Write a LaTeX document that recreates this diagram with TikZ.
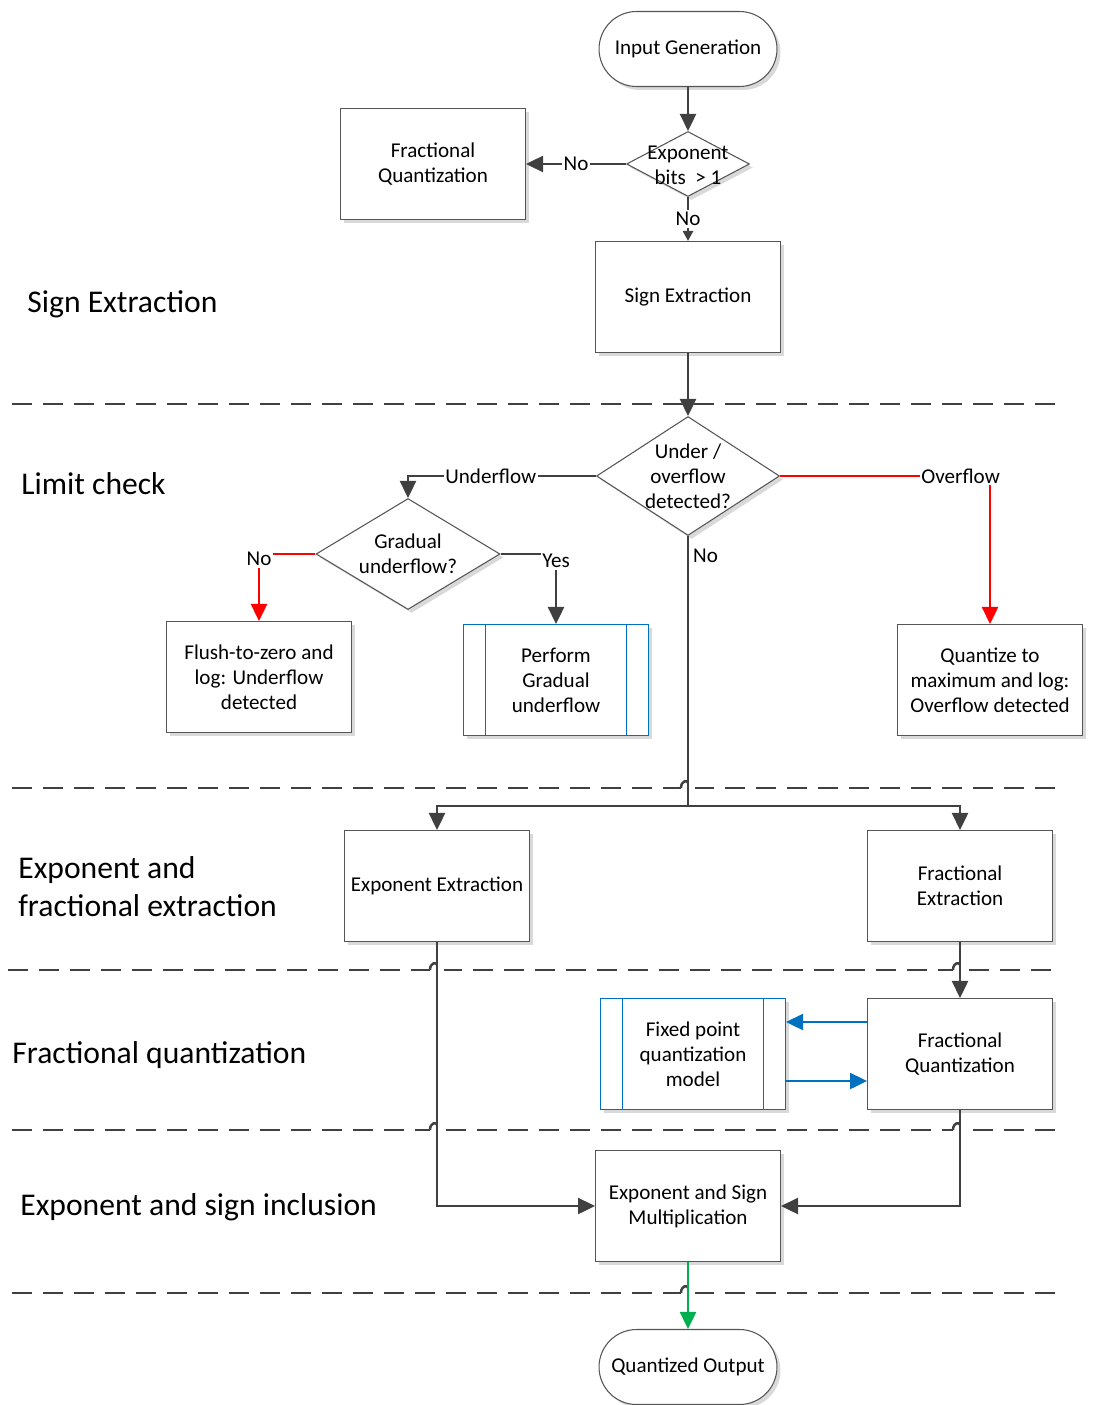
\documentclass[tikz,border=0pt]{standalone}
\usepackage{fontspec}
\setmainfont{Carlito}
\usetikzlibrary{arrows.meta,shapes.geometric,shapes.misc,shadows,calc}

\definecolor{lineGray}{HTML}{404040}
\definecolor{boxGray}{HTML}{555555}
\definecolor{vsBlue}{HTML}{0070C0}
\definecolor{vsRed}{HTML}{FF0000}
\definecolor{vsGreen}{HTML}{00B050}

\begin{document}
\begin{tikzpicture}[x = 0.02cm, y = -0.02cm,
    shade box/.style = {drop shadow = {shadow xshift = 0.07cm, shadow yshift = -0.07cm, fill = black!15, opacity = 1}},
    box/.style = {rectangle, draw = boxGray, line width = 0.6pt, fill = white, shade box,
        minimum width = 3.7cm, minimum height = 2.22cm, inner sep = 2pt, align = center,
        font = \fontsize{12}{14.2}\selectfont},
    term/.style = {box, rounded rectangle, minimum height = 1.5cm},
    decision/.style = {diamond, draw = boxGray, line width = 0.6pt, fill = white, shade box, inner sep = 0pt},
    predef/.style = {box, draw = vsBlue,
        path picture = {\draw [vsBlue, line width = 0.6pt]
            ([xshift = 0.44cm] path picture bounding box.north west) -- ([xshift = 0.44cm] path picture bounding box.south west)
            ([xshift = -0.44cm] path picture bounding box.north east) -- ([xshift = -0.44cm] path picture bounding box.south east);}},
    txt/.style = {inner sep = 0pt, align = center, text = black, font = \fontsize{12}{14.2}\selectfont},
    lbl/.style = {txt, fill = white, inner sep = 1pt},
    heading/.style = {anchor = west, inner sep = 0pt, align = left, font = \fontsize{18}{21.6}\selectfont},
    flow/.style = {line width = 1.4pt, draw = lineGray, -{Triangle[length = 0.34cm, width = 0.32cm]}},
    small flow/.style = {flow, -{Triangle[length = 0.2cm, width = 0.2cm]}},
    sepline/.style = {line width = 1.6pt, draw = lineGray, dash pattern = on 0.4cm off 0.22cm}]

    \useasboundingbox (0, 0) rectangle (1095, 1405);

    % lane separators
    \foreach \yy/\xa/\xb in {404/12/1062, 788/12/1062, 970/8/1053, 1130/12/1055, 1293/12/1062}
    \draw [sepline] (\xa, \yy) -- (\xb, \yy);

    \foreach \hx/\hy in {688/788, 437/970, 960/970, 437/1130, 960/1130, 688/1293} {
        \fill [white] (\hx - 7, \hy - 3) rectangle (\hx + 7, \hy + 3);
        \draw [line width = 1.4pt, lineGray] (\hx - 7, \hy) .. controls (\hx - 7, \hy - 8) and (\hx, \hy - 8) .. (\hx, \hy - 5);
    }

    % lane titles
    \node [heading] (hSign) at (27, 304) {Sign Extraction};
    \node [heading] (hLimit) at (21, 484) {Limit check};
    \node [heading] (hExpFrac) at (18, 887) {Exponent and\\fractional extraction};
    \node [heading] (hFracQ) at (12, 1055) {Fractional quantization};
    \node [heading] (hExpSign) at (20, 1207) {Exponent and sign inclusion};

    % blocks
    \node [term] (input) at (688, 49) {Input Generation};
    \node [decision, minimum width = 2.46cm, minimum height = 1.3cm] (expbits) at (688, 164) {};
    \node [txt] (expbitsT) at (688, 165) {Exponent\\bits~~> 1};
    \node [box] (fracq1) at (433, 164) {Fractional\\Quantization};
    \node [box] (signx) at (688, 297) {Sign Extraction};

    \node [decision, minimum width = 3.66cm, minimum height = 2.38cm] (uoflow) at (688, 476) {};
    \node [txt] (uoflowT) at (uoflow) {Under /\\overflow\\detected?};
    \node [decision, minimum width = 3.68cm, minimum height = 2.22cm] (gradual) at (408, 554) {};
    \node [txt] (gradualT) at (gradual) {Gradual\\underflow?};
    \node [box] (flush) at (259, 677) {Flush-to-zero and\\log: Underflow\\detected};
    \node [predef] (perform) at (556, 680) {Perform\\Gradual\\underflow};
    \node [box] (quantmax) at (990, 680) {Quantize to\\maximum and log:\\Overflow detected};

    \node [box] (expx) at (437, 886) {Exponent Extraction};
    \node [box] (fracx) at (960, 886) {Fractional\\Extraction};
    \node [predef] (fixedq) at (693, 1054) {Fixed point\\quantization\\model};
    \node [box] (fracq2) at (960, 1054) {Fractional\\Quantization};
    \node [box] (expsign) at (688, 1206) {Exponent and Sign\\Multiplication};
    \node [term] (output) at (688, 1367) {Quantized Output};

    % connectors
    \draw [flow] (input.south) -- (expbits.north);
    \draw [flow] (expbits.west) -- node [lbl] {No} (fracq1.east);
    \draw [small flow] (expbits.south) -- node [lbl] {No} (signx.north);
    \draw [flow] (signx.south) -- (uoflow.north);

    \draw [flow] (uoflow.west) -| node [lbl, pos = 0.28] {Underflow} (gradual.north);
    \draw [flow] (gradual.east) -| node [lbl, pos = 0.5, yshift = -0.14cm] {Yes} (perform.north);
    \draw [flow, vsRed] (gradual.west) -| node [lbl, pos = 0.5, yshift = -0.1cm] {No} (flush.north);
    \draw [flow, vsRed] (uoflow.east) -| node [lbl, pos = 0.43] {Overflow} (quantmax.north);

    \coordinate (split) at (688, 806);
    \draw [flow] (uoflow.south) -- node [txt, pos = 0.074, anchor = west, xshift = 0.08cm] {No} (split) -| (expx.north);
    \draw [flow] (split) -| (fracx.north);

    \draw [flow] (fracx.south) -- (fracq2.north);
    \draw [flow, vsBlue] ($(fracq2.west) + (0, -32)$) -- ($(fixedq.east) + (0, -32)$);
    \draw [flow, vsBlue] ($(fixedq.east) + (0, 27)$) -- ($(fracq2.west) + (0, 27)$);

    \draw [flow] (expx.south) |- (expsign.west);
    \draw [flow] (fracq2.south) |- (expsign.east);
    \draw [flow, vsGreen] (expsign.south) -- (output.north);
\end{tikzpicture}
\end{document}
